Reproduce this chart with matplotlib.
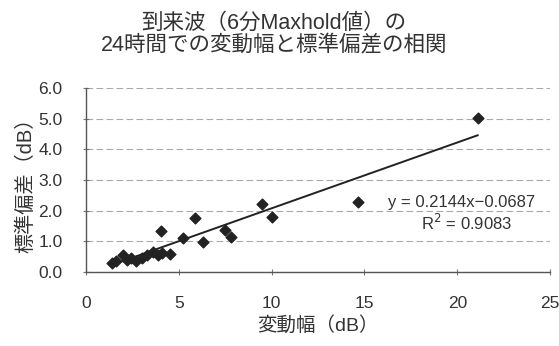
import matplotlib
matplotlib.use('Agg')
import matplotlib.pyplot as plt
import numpy as np

plt.rcParams['font.family'] = ['Liberation Sans', 'Noto Sans CJK JP', 'DejaVu Sans']

# 変動幅 (dB) と 標準偏差 (dB)
variation = [1.4, 1.6, 2.0, 2.2, 2.4, 2.7, 3.0, 3.3, 3.6, 3.85, 4.1, 4.5,
             4.05, 5.2, 5.85, 6.3, 7.5, 7.8, 9.5, 10.0, 14.65, 21.1]
std_dev = [0.29, 0.36, 0.55, 0.39, 0.46, 0.36, 0.46, 0.55, 0.65, 0.55, 0.62, 0.59,
           1.34, 1.11, 1.75, 0.97, 1.37, 1.13, 2.2, 1.8, 2.28, 5.02]

slope = 0.2144
intercept = -0.0687
r2 = 0.9083

x_ticks = [0, 5, 10, 15, 20, 25]
y_ticks = [0.0, 1.0, 2.0, 3.0, 4.0, 5.0, 6.0]

fig = plt.figure(figsize=(5.59, 3.46), dpi=100)
ax = fig.add_axes([0.154, 0.214, 0.830, 0.532])

ax.scatter(variation, std_dev, marker='D', s=30, color='#222222', zorder=3)

# 近似直線
xs = np.array([min(variation), max(variation)])
ax.plot(xs, slope * xs + intercept, color='#222222', lw=1.4, zorder=2)

ax.set_xlim(0, 25)
ax.set_ylim(0, 6)
ax.set_xticks(x_ticks)
ax.set_yticks(y_ticks)
ax.set_yticklabels([f'{v:.1f}' for v in y_ticks])
ax.yaxis.grid(True, color='#aaaaaa', ls=(0, (6, 3)), lw=0.8)
ax.set_axisbelow(True)

for s in ['top', 'right']:
    ax.spines[s].set_visible(False)
for s in ['left', 'bottom']:
    ax.spines[s].set_color('#555555')
    ax.spines[s].set_linewidth(1.0)

ax.tick_params(direction='inout', length=4, width=0.8, color='#777777',
               labelsize=12.5, labelcolor='#333333', pad=15)

ax.set_xlabel('変動幅（dB）', fontsize=14, color='#333333', labelpad=4)
ax.set_ylabel('標準偏差（dB）', fontsize=14.5, color='#333333', labelpad=2)

eq = f'y = {slope}x{intercept}'.replace('-', '\u2212')
ax.text(0.81, 0.38, eq, transform=ax.transAxes,
        ha='center', va='center', fontsize=12, color='#333333')
ax.text(0.82, 0.266, f'R$^2$ = {r2}', transform=ax.transAxes,
        ha='center', va='center', fontsize=12, color='#333333')

fig.text(0.49, 0.90, '到来波（6分Maxhold値）の\n24時間での変動幅と標準偏差の相関',
         ha='center', va='center', fontsize=15.5, color='#333333', linespacing=1.05)

fig.savefig('out.png', dpi=100)
